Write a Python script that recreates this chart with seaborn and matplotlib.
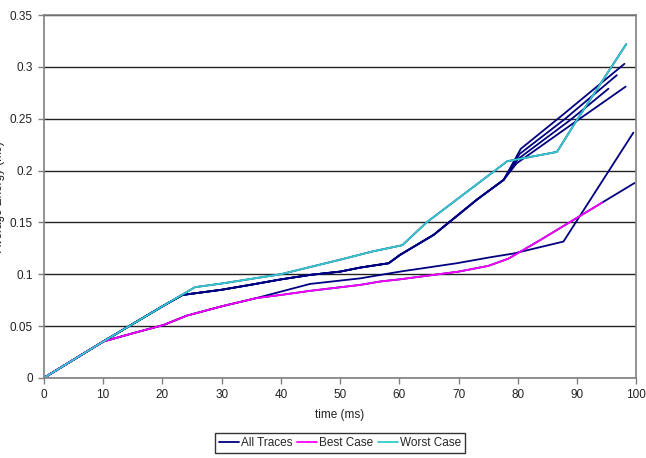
import numpy as np
import pandas as pd
import seaborn as sns
import matplotlib
matplotlib.use("Agg")
import matplotlib.pyplot as plt
from matplotlib.ticker import FuncFormatter

# worst case (cyan)
worst_t = [0, 10, 20, 25.5, 30, 40, 50, 55.5, 60.5, 64.6, 73.6, 78.2, 86.6, 90, 98.3]
worst_e = [0, 0.035, 0.069, 0.0875, 0.091, 0.100, 0.114, 0.122, 0.128, 0.150, 0.189, 0.209, 0.218, 0.249, 0.322]

# best case (magenta)
best_t = [0, 10, 15, 20.2, 24.1, 30, 35.9, 40, 45, 53.4, 56.8, 60, 70, 75, 78.4, 83.8, 94.2]
best_e = [0, 0.035, 0.043, 0.051, 0.060, 0.069, 0.077, 0.080, 0.084, 0.0897, 0.093, 0.095, 0.1025, 0.108, 0.115, 0.133, 0.169]

# all traces (navy) - shared early part of the upper traces
upper_t = [0, 10, 20, 23.4, 30, 34.8, 40, 44.9, 50, 53.4, 58.2, 60.1, 65.8, 73.1, 77.6]
upper_e = [0, 0.035, 0.069, 0.080, 0.085, 0.0897, 0.095, 0.0993, 0.1025, 0.1064, 0.1106, 0.1186, 0.138, 0.172, 0.191]

# ends of the four upper traces
tail1_t = [80.5, 87.2, 98.0]
tail1_e = [0.221, 0.252, 0.303]
tail2_t = [80.3, 88.0, 96.7]
tail2_e = [0.216, 0.250, 0.292]
tail3_t = [80.0, 88.9, 95.3]
tail3_e = [0.211, 0.249, 0.279]
tail4_t = [79.8, 89.7, 98.2]
tail4_e = [0.207, 0.247, 0.281]

# lower trace that leaves best case at ~36 ms
lower_t = [0, 10, 15, 20.2, 24.1, 30, 35.9, 44.9, 53.4, 56.8, 60.1, 69.7, 75.3, 79.3, 87.7, 99.5]
lower_e = [0, 0.035, 0.043, 0.051, 0.060, 0.069, 0.077, 0.0906, 0.096, 0.0993, 0.1025, 0.1106, 0.1163, 0.120, 0.1315, 0.2366]

# trace that follows best case then continues
extra_t = [99.7]
extra_e = [0.188]

rows = []
def add(name, unit, ts, es):
    for t, e in zip(ts, es):
        rows.append({"time": t, "energy": e, "series": name, "unit": unit})

for i, (tt, te) in enumerate([(tail1_t, tail1_e), (tail2_t, tail2_e),
                              (tail3_t, tail3_e), (tail4_t, tail4_e)]):
    add("All Traces", "u%d" % i, upper_t + tt, upper_e + te)
add("All Traces", "low", lower_t, lower_e)
add("All Traces", "bx", best_t + extra_t, best_e + extra_e)
add("All Traces", "wx", worst_t, worst_e)
add("Best Case", "b", best_t, best_e)
add("Worst Case", "w", worst_t, worst_e)
df = pd.DataFrame(rows)

sns.set_style("white")
plt.rcParams['font.family'] = ['Liberation Sans', 'DejaVu Sans']

fig = plt.figure(figsize=(6.46, 4.58), dpi=100)
ax = fig.add_axes([0.068, 0.175, 0.917, 0.792])

pal = {"All Traces": "#000080", "Best Case": "#FF00FF", "Worst Case": "#33CCCC"}
sns.lineplot(data=df, x="time", y="energy", hue="series", units="unit",
             estimator=None, sort=False, palette=pal, linewidth=1.3,
             hue_order=["All Traces", "Best Case", "Worst Case"], ax=ax, legend=True)

ax.set_xlim(0, 100)
ax.set_ylim(0, 0.35)
ax.set_xticks(np.arange(0, 101, 10))
ax.set_yticks(np.arange(0, 0.351, 0.05))
ax.yaxis.set_major_formatter(FuncFormatter(lambda v, p: "%g" % round(v, 2)))
ax.tick_params(labelsize=8.5, labelcolor="#222222", length=4, width=1, direction="out",
               bottom=True, left=True, color="#808080", pad=4)
ax.yaxis.grid(True, color="#222222", linewidth=1)
ax.set_axisbelow(True)
for s in ax.spines.values():
    s.set_color("#808080")
    s.set_linewidth(1.2)

ax.set_xlabel("time (ms)", fontsize=8.5, color="#222222", labelpad=6)
ax.set_ylabel("Average Energy (mJ)", fontsize=8.5, color="#222222")
ax.yaxis.set_label_coords(-0.066, 0.5)

ax.get_legend().remove()
h, l = ax.get_legend_handles_labels()
leg = fig.legend(h, l, loc="center", bbox_to_anchor=(0.526, 0.033), ncol=3,
                 fontsize=8.5, frameon=True, fancybox=False, edgecolor="black",
                 handlelength=1.7, handletextpad=0.15, columnspacing=0.4,
                 borderpad=0.35, borderaxespad=0)
leg.get_frame().set_linewidth(1)

fig.savefig("out.png", dpi=100)
